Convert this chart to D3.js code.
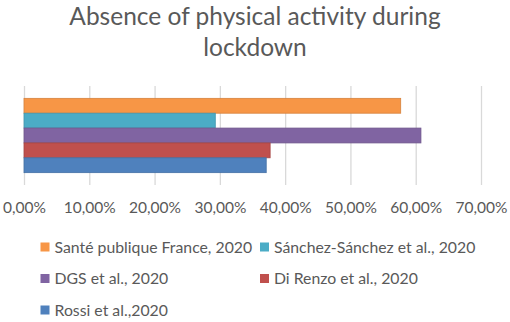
<!DOCTYPE html>
<html><head><meta charset="utf-8">
<script src="https://cdn.jsdelivr.net/npm/d3@7"></script>
<style>body{margin:0;background:#fff}svg{display:block}</style>
</head><body>
<svg id="c" width="510" height="322"></svg>
<script>
const titleLines = ["Absence of physical activity during", "lockdown"];
const categories = [""];
const seriesNames = ["Santé publique France, 2020", "Sánchez-Sánchez et al., 2020", "DGS et al., 2020", "Di Renzo et al., 2020", "Rossi et al.,2020"];
const seriesValues = [0.577, 0.293, 0.608, 0.377, 0.371];
const seriesColors = ["#F79646", "#4BACC6", "#8064A2", "#C0504D", "#4F81BD"];
const tickValues = [0, 0.1, 0.2, 0.3, 0.4, 0.5, 0.6, 0.7];
const tickLabels = ["0,00%", "10,00%", "20,00%", "30,00%", "40,00%", "50,00%", "60,00%", "70,00%"];

const svg = d3.select("#c");
const font = "Lato, 'Open Sans', sans-serif";
const textColor = "#595959";

svg.append("g").selectAll("text").data(titleLines).join("text")
  .attr("x", 255).attr("y", (d, i) => 25 + i * 31)
  .attr("text-anchor", "middle")
  .attr("font-family", font).attr("font-size", 24.5).attr("fill", textColor)
  .text(d => d);

const x = d3.scaleLinear().domain([0, 0.7]).range([24, 481]);
const yCat = d3.scaleBand().domain(categories).range([86, 185]).paddingInner(0).paddingOuter(0.166);
const ySer = d3.scaleBand().domain(seriesNames).range([0, yCat.bandwidth()]).padding(0);

// gridlines via axis
const grid = d3.axisBottom(x).tickValues(tickValues).tickSize(-(185 - 86)).tickFormat("");
const gg = svg.append("g").attr("transform", "translate(0,185)").call(grid);
gg.select(".domain").remove();
gg.selectAll("line").attr("stroke", "#D9D9D9").attr("stroke-width", 1.3);

// bars
const data = seriesNames.map((n, i) => ({ name: n, value: seriesValues[i], color: seriesColors[i] }));
svg.append("g").selectAll("rect").data(data).join("rect")
  .attr("x", x(0))
  .attr("y", d => yCat("") + ySer(d.name))
  .attr("width", d => x(d.value) - x(0))
  .attr("height", ySer.bandwidth())
  .attr("fill", d => d.color)
  .attr("stroke", d => d3.color(d.color).darker(0.4))
  .attr("stroke-width", 0.8);

// tick labels via axis
const ax = d3.axisBottom(x).tickValues(tickValues).tickFormat((d, i) => tickLabels[i]).tickSize(0).tickPadding(0);
const ag = svg.append("g").attr("transform", "translate(0,202)").call(ax);
ag.select(".domain").remove();
ag.selectAll("text").attr("font-family", font).attr("font-size", 15.5).attr("fill", textColor).attr("dy", "0.71em");

// legend
const legPos = [[40.5, 247], [260, 247], [40.5, 278.5], [260, 278.5], [40.5, 310]];
const lg = svg.append("g").selectAll("g").data(data).join("g")
  .attr("transform", (d, i) => `translate(${legPos[i][0]},${legPos[i][1]})`);
lg.append("rect").attr("x", 0).attr("y", -4.5).attr("width", 9).attr("height", 9).attr("fill", d => d.color);
lg.append("text").attr("x", 14).attr("y", 0).attr("dy", "0.35em")
  .attr("font-family", font).attr("font-size", 15.8).attr("fill", textColor).text(d => d.name);
</script>
</body></html>
